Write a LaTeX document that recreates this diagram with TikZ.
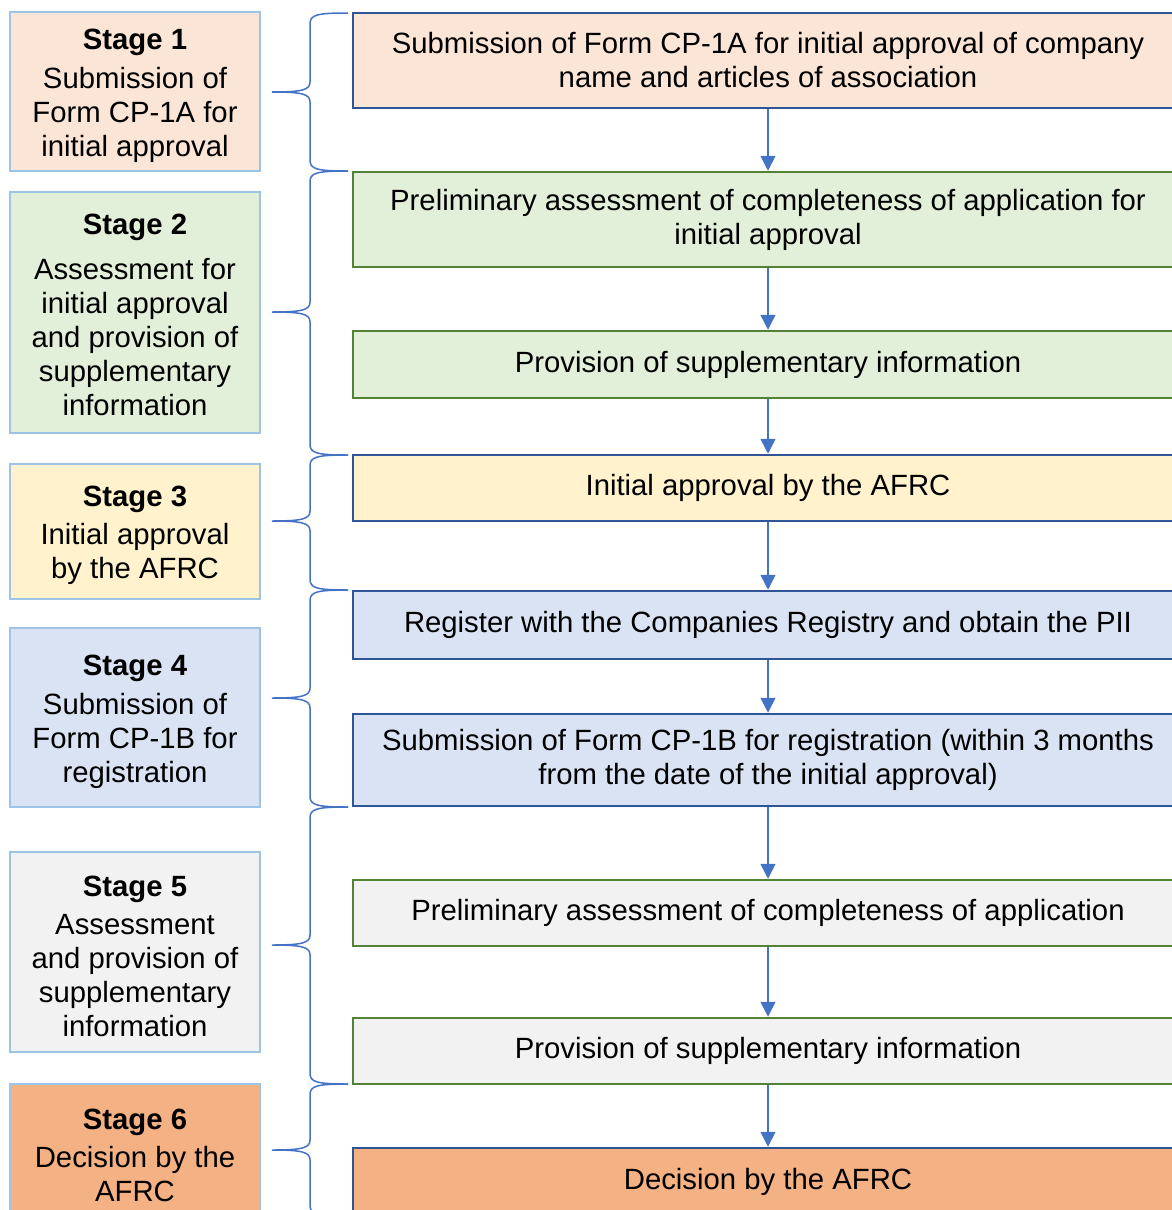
\documentclass[tikz,border=0pt]{standalone}
\usepackage{fontspec}
\setmainfont{Liberation Sans}
\usetikzlibrary{arrows.meta}
\definecolor{cpeach}{HTML}{FBE5D6}
\definecolor{cgreen}{HTML}{E2F0D9}
\definecolor{cyellow}{HTML}{FFF2CC}
\definecolor{cblue}{HTML}{DAE3F3}
\definecolor{cgray}{HTML}{F2F2F2}
\definecolor{corange}{HTML}{F4B183}
\definecolor{lborder}{HTML}{9DC3E6}
\definecolor{dblue}{HTML}{2F5597}
\definecolor{dgreen}{HTML}{548235}
\definecolor{lineblue}{HTML}{4472C4}
\newcommand{\mybrace}[3]{%
  \draw[bracestyle] (348,#1) .. controls (316,#1) and (310,#1+2) .. (310,#1+11)
    -- (310,#2-10) .. controls (310,#2-2) and (302,#2) .. (272,#2)
    .. controls (302,#2) and (310,#2+2) .. (310,#2+10)
    -- (310,#3-11) .. controls (310,#3-2) and (316,#3) .. (348,#3);}
\newcommand{\sttl}[1]{\rule{0pt}{29pt}\textbf{#1}}
\begin{document}
\begin{tikzpicture}[x=1pt,y=-1pt,
  txt/.style={font=\fontsize{29.3}{34}\selectfont, align=center, inner sep=0pt},
  stagebox/.style={txt, draw=lborder, line width=2.5pt, minimum width=250pt},
  stepbox/.style={txt, line width=2.5pt, minimum width=830pt},
  bluestep/.style={stepbox, draw=dblue},
  greenstep/.style={stepbox, draw=dgreen},
  flow/.style={draw=lineblue, line width=1.5pt, -{Triangle[length=15pt,width=15pt]}},
  bracestyle/.style={draw=lineblue, line width=1.5pt}]
\useasboundingbox (0,0) rectangle (1172,1210);
\clip (0,0) rectangle (1172,1210);

% left stage boxes
\node[stagebox, fill=cpeach, minimum height=159pt] (s1) at (135,91.5)
  {\sttl{Stage 1}\\[5pt]Submission of\\Form CP-1A for\\initial approval};
\node[stagebox, fill=cgreen, minimum height=241pt] (s2) at (135,312.5)
  {\rule{0pt}{25pt}\textbf{Stage 2}\\[11pt]Assessment for\\initial approval\\and provision of\\supplementary\\information};
\node[stagebox, fill=cyellow, minimum height=135pt] (s3) at (135,531.5)
  {\sttl{Stage 3}\\[4pt]Initial approval\\by the AFRC};
\node[stagebox, fill=cblue, minimum height=179pt] (s4) at (135,717.5)
  {\sttl{Stage 4}\\[5pt]Submission of\\Form CP-1B for\\registration};
\node[stagebox, fill=cgray, minimum height=200pt] (s5) at (135,952)
  {\sttl{Stage 5}\\[4pt]Assessment\\and provision of\\supplementary\\information};
\node[stagebox, fill=corange, minimum height=134pt] (s6) at (135,1151)
  {\sttl{Stage 6}\\[4pt]Decision by the\\AFRC};

% right step boxes
\node[bluestep, fill=cpeach, minimum height=95pt] (r1) at (768,60.5)
  {Submission of Form CP-1A for initial approval of company\\name and articles of association};
\node[greenstep, fill=cgreen, minimum height=95pt] (r2) at (768,219.5)
  {Preliminary assessment of completeness of application for\\initial approval};
\node[greenstep, fill=cgreen, minimum height=67pt] (r3) at (768,364.5)
  {Provision of supplementary information};
\node[bluestep, fill=cyellow, minimum height=66pt] (r4) at (768,488)
  {Initial approval by the AFRC};
\node[bluestep, fill=cblue, minimum height=68pt] (r5) at (768,625)
  {Register with the Companies Registry and obtain the PII};
\node[bluestep, fill=cblue, minimum height=92pt] (r6) at (768,760)
  {Submission of Form CP-1B for registration (within 3 months\\from the date of the initial approval)};
\node[greenstep, fill=cgray, minimum height=66pt] (r7) at (768,913)
  {Preliminary assessment of completeness of application};
\node[greenstep, fill=cgray, minimum height=66pt] (r8) at (768,1051)
  {Provision of supplementary information};
\node[bluestep, fill=corange, minimum height=67pt] (r9) at (768,1181.5)
  {Decision by the AFRC};

% arrows
\draw[flow] (r1) -- (r2);
\draw[flow] (r2) -- (r3);
\draw[flow] (r3) -- (r4);
\draw[flow] (r4) -- (r5);
\draw[flow] (r5) -- (r6);
\draw[flow] (r6) -- (r7);
\draw[flow] (r7) -- (r8);
\draw[flow] (r8) -- (r9);

% braces
\mybrace{13}{92}{171}
\mybrace{171}{312}{455}
\mybrace{455}{521}{590}
\mybrace{590}{698}{807}
\mybrace{807}{945}{1084}
\mybrace{1084}{1150}{1216}
\end{tikzpicture}
\end{document}
